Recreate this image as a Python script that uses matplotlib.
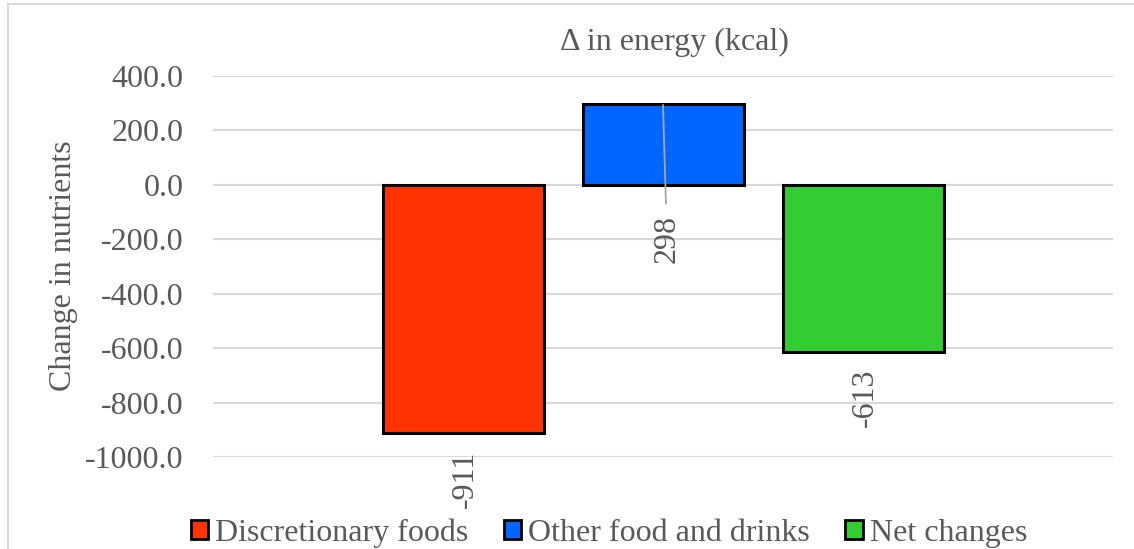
import matplotlib.pyplot as plt
from matplotlib.patches import Rectangle

categories = ['Discretionary foods', 'Other food and drinks', 'Net changes']
values = [-911, 298, -613]
colors = ['#FF3300', '#0066FF', '#33CC33']
yticks = [400, 200, 0, -200, -400, -600, -800, -1000]

plt.rcParams['font.family'] = ['Liberation Serif', 'DejaVu Serif']
grey = '#595959'
fs = 23

fig = plt.figure(figsize=(11.34, 5.49), dpi=100)
ax = fig.add_axes([213 / 1134, (549 - 457) / 549, 900 / 1134, 381 / 549])

# outer chart border (cut off at right and bottom)
fig.patches.append(Rectangle((7.5 / 1134, -0.1), 1.2, (549 - 4) / 549 + 0.1,
                             transform=fig.transFigure, fill=False,
                             edgecolor='#D9D9D9', linewidth=1.5))

x = [0, 1, 2]
for i in range(3):
    ax.bar(x[i], values[i], width=0.805, color=colors[i], edgecolor='black',
           linewidth=2.2, label=categories[i], zorder=3)

ax.set_xlim(-1.25, 3.25)
ax.set_ylim(-1000, 400)
ax.set_yticks(yticks)
ax.set_yticklabels(['%.1f' % v for v in yticks])
ax.set_xticks([])
ax.grid(axis='y', color='#D9D9D9', linewidth=1.5, zorder=0)
for s in ax.spines.values():
    s.set_visible(False)
ax.tick_params(axis='y', length=0, labelsize=fs, labelcolor=grey, pad=21)

fig.text(64 / 1134, (549 - 266) / 549, 'Change in nutrients', rotation=90,
         ha='center', va='center', fontsize=fs, color=grey)
fig.text(674 / 1134, (549 - 42) / 549, '\u0394 in energy (kcal)',
         ha='center', va='center', fontsize=fs, color=grey)

# data labels
ax.annotate('-911', xy=(0, values[0]), xytext=(1.5, -13), textcoords='offset points',
            rotation=90, ha='center', va='top', fontsize=fs, color=grey)
ax.annotate('-613', xy=(2, values[2]), xytext=(1.5, -12), textcoords='offset points',
            rotation=90, ha='center', va='top', fontsize=fs, color=grey)
ax.annotate('298', xy=(1, values[1] - 4), xytext=(1.02, -110), textcoords='data',
            rotation=90, ha='center', va='top', fontsize=fs, color=grey,
            arrowprops=dict(arrowstyle='-', color='#A6A6A6', lw=1.3,
                            shrinkA=6, shrinkB=0), zorder=4)

leg = fig.legend(loc='center', bbox_to_anchor=(609 / 1134, (549 - 533) / 549), ncol=3,
                 frameon=False, fontsize=fs, handlelength=0.55, handleheight=0.55,
                 handletextpad=0.22, columnspacing=1.1, labelcolor=grey,
                 borderpad=0, borderaxespad=0)
for h in leg.legend_handles:
    h.set_linewidth(2)

fig.savefig('out.png', dpi=100)
